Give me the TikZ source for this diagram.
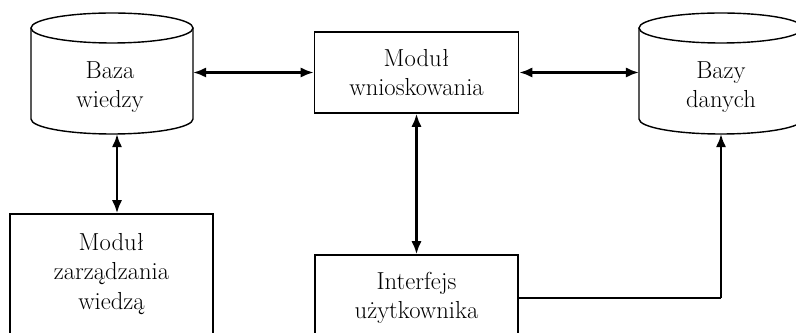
\documentclass[tikz,border=0pt]{standalone}
\usetikzlibrary{arrows.meta}
% cylinder outline: options, centre of the top ellipse, x radius : y radius : side height
\def\drum[#1](#2,#3)(#4:#5:#6){%
  \draw[#1] (#2,#3) ellipse [x radius=#4, y radius=#5];
  \draw[#1] (#2-#4,#3) -- ++(0,#6) arc [start angle=180, end angle=0, x radius=#4, y radius=#5] -- ++(0,-#6);}
\tikzset{
  txt/.style={align=center, font=\fontsize{17.5}{21}\selectfont},
  box/.style={txt, draw, line width=1pt, inner sep=0pt},
  link/.style={line width=2pt, {Latex[length=0.33cm,width=0.26cm]}-{Latex[length=0.33cm,width=0.26cm]}},
  feed/.style={line width=2pt, -{Latex[length=0.33cm,width=0.26cm]}},
  wire/.style={line width=1pt}
}
\begin{document}
\begin{tikzpicture}[x=0.025cm, y=-0.025cm]
  \useasboundingbox (0,0) rectangle (796,333);
  \clip (0,0) rectangle (796,333);

  %%%%% cylinders %%%%%
  \drum[line width=1pt](112,28)(81:15:91)
  \drum[line width=1pt](721,28)(82:15:91)
  \node[txt] (kb) at (110,87) {Baza\\wiedzy};
  \node[txt] (db) at (721,87) {Bazy\\danych};
  \coordinate (kbE) at (193,72.5);
  \coordinate (kbS) at (117,134);
  \coordinate (dbW) at (639,72.5);
  \coordinate (dbS) at (721,134);

  %%%%% boxes %%%%%
  \node[box, minimum width=5.1cm, minimum height=2.025cm] (infer) at (416.5,72.5) {Moduł\\wnioskowania};
  \node[box, minimum width=5.075cm, minimum height=3cm] (manage) at (111.5,274) {Moduł\\zarządzania\\wiedzą};
  \node[box, minimum width=5.075cm, minimum height=2.15cm] (ui) at (416.5,298) {Interfejs\\użytkownika};

  %%%%% connectors %%%%%
  \draw[link] (kbE) -- (infer.west);
  \draw[link] (infer.east) -- (dbW);
  \draw[link] (kbS) -- (kbS |- manage.north);
  \draw[link] (infer.south) -- (ui.north);
  \coordinate (bend) at (ui.east -| dbS);
  \draw[wire] (ui.east) -- (bend);
  \draw[feed] (bend) -- (dbS);
\end{tikzpicture}
\end{document}
